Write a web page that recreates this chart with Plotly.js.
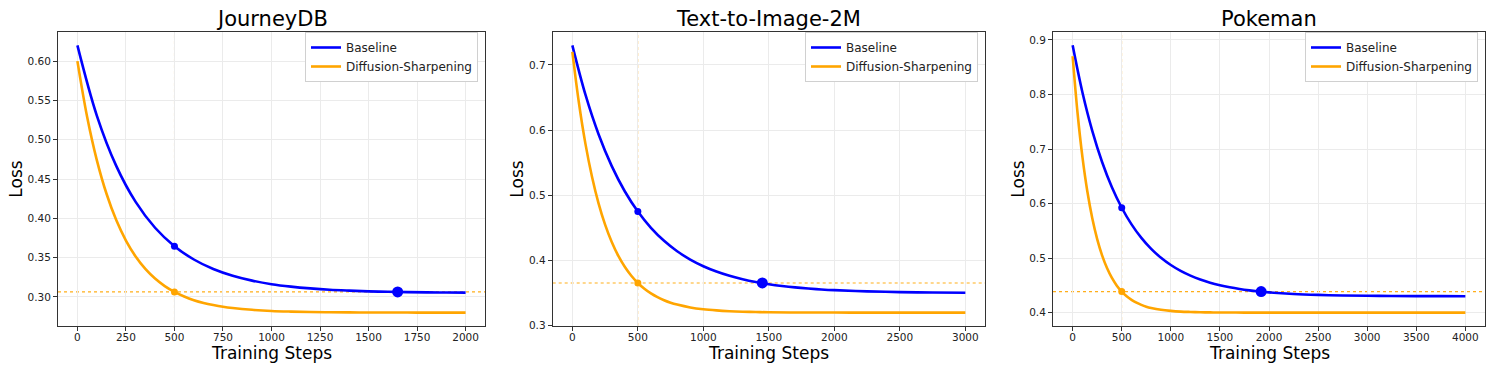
<!DOCTYPE html>
<html>
<head>
<meta charset="utf-8">
<script src="https://cdn.plot.ly/plotly-3.0.1.min.js"></script>
<style>
  html, body { margin: 0; padding: 0; background: #fff; }
  #chart { width: 1495px; height: 373px; }
</style>
</head>
<body>
<div id="chart"></div>
<script>
// --- JourneyDB ---
const journeyBaseSteps = [0, 100, 200, 300, 400, 500, 600, 700, 800, 900, 1000, 1100, 1200, 1300, 1400, 1500, 1600, 1700, 1800, 1900, 2000];
const journeyBaseLoss = [0.6200, 0.5307, 0.4667, 0.4209, 0.3880, 0.3645, 0.3476, 0.3355, 0.3269, 0.3207, 0.3162, 0.3131, 0.3108, 0.3091, 0.3080, 0.3071, 0.3065, 0.3061, 0.3058, 0.3056, 0.3054];
const journeySharpSteps = [0, 50, 100, 150, 200, 250, 300, 350, 400, 450, 500, 550, 600, 650, 700, 750, 800, 900, 1000, 1100, 1200, 1300, 1400, 1500, 1600, 1700, 1800, 1900, 2000];
const journeySharpLoss = [0.6000, 0.5292, 0.4741, 0.4312, 0.3977, 0.3717, 0.3514, 0.3356, 0.3233, 0.3137, 0.3063, 0.3005, 0.2959, 0.2924, 0.2897, 0.2875, 0.2859, 0.2836, 0.2821, 0.2813, 0.2808, 0.2805, 0.2803, 0.2802, 0.2801, 0.2801, 0.2800, 0.2800, 0.2800];
const journeyMatchStep = 1650;

// --- Text-to-Image-2M ---
const t2iBaseSteps = [0, 100, 200, 300, 400, 500, 600, 700, 800, 900, 1000, 1100, 1200, 1300, 1400, 1500, 1600, 1700, 1800, 1900, 2000, 2250, 2500, 2750, 3000];
const t2iBaseLoss = [0.7300, 0.6543, 0.5937, 0.5451, 0.5062, 0.4751, 0.4502, 0.4302, 0.4142, 0.4014, 0.3912, 0.3830, 0.3764, 0.3711, 0.3669, 0.3636, 0.3609, 0.3587, 0.3570, 0.3556, 0.3545, 0.3526, 0.3515, 0.3508, 0.3505];
const t2iSharpSteps = [0, 50, 100, 150, 200, 250, 300, 350, 400, 450, 500, 550, 600, 650, 700, 750, 800, 900, 1000, 1100, 1200, 1300, 1400, 1500, 1750, 2000, 2250, 2500, 2750, 3000];
const t2iSharpLoss = [0.7200, 0.6419, 0.5789, 0.5284, 0.4876, 0.4549, 0.4286, 0.4073, 0.3903, 0.3765, 0.3655, 0.3566, 0.3494, 0.3437, 0.3391, 0.3353, 0.3324, 0.3280, 0.3252, 0.3234, 0.3222, 0.3214, 0.3209, 0.3206, 0.3202, 0.3201, 0.3200, 0.3200, 0.3200, 0.3200];
const t2iMatchStep = 1450;

// --- Pokeman ---
const pokeBaseSteps = [0, 100, 200, 300, 400, 500, 600, 700, 800, 900, 1000, 1100, 1200, 1300, 1400, 1500, 1600, 1700, 1800, 1900, 2000, 2250, 2500, 2750, 3000, 3250, 3500, 3750, 4000];
const pokeBaseLoss = [0.8900, 0.8035, 0.7332, 0.6762, 0.6299, 0.5923, 0.5618, 0.5370, 0.5169, 0.5006, 0.4873, 0.4765, 0.4678, 0.4607, 0.4549, 0.4502, 0.4464, 0.4433, 0.4408, 0.4388, 0.4371, 0.4342, 0.4325, 0.4315, 0.4309, 0.4305, 0.4303, 0.4302, 0.4301];
const pokeSharpSteps = [0, 50, 100, 150, 200, 250, 300, 350, 400, 450, 500, 550, 600, 650, 700, 750, 800, 900, 1000, 1100, 1200, 1300, 1400, 1500, 1750, 2000, 2500, 3000, 3500, 4000];
const pokeSharpLoss = [0.8700, 0.7660, 0.6851, 0.6220, 0.5729, 0.5347, 0.5049, 0.4817, 0.4636, 0.4495, 0.4386, 0.4300, 0.4234, 0.4182, 0.4142, 0.4110, 0.4086, 0.4052, 0.4032, 0.4019, 0.4012, 0.4007, 0.4004, 0.4003, 0.4001, 0.4000, 0.4000, 0.4000, 0.4000, 0.4000];
const pokeMatchStep = 1920;

const panelTitles = ['JourneyDB', 'Text-to-Image-2M', 'Pokeman'];
const compareStep = 500;

const BLUE = '#0000ff';
const ORANGE = '#ffa500';
const FONT = 'DejaVu Sans, sans-serif';

const panels = [
    { baseX: journeyBaseSteps, baseY: journeyBaseLoss, sharpX: journeySharpSteps, sharpY: journeySharpLoss, match: journeyMatchStep,
      xr: [-100, 2100], yr: [0.263, 0.637], xd: 250, yd: 0.05, yfmt: '.2f', dom: [58, 485] },
    { baseX: t2iBaseSteps, baseY: t2iBaseLoss, sharpX: t2iSharpSteps, sharpY: t2iSharpLoss, match: t2iMatchStep,
      xr: [-150, 3150], yr: [0.2995, 0.7505], xd: 500, yd: 0.1, yfmt: '.1f', dom: [552.7, 985] },
    { baseX: pokeBaseSteps, baseY: pokeBaseLoss, sharpX: pokeSharpSteps, sharpY: pokeSharpLoss, match: pokeMatchStep,
      xr: [-200, 4200], yr: [0.3755, 0.9145], xd: 500, yd: 0.1, yfmt: '.1f', dom: [1053, 1485] }
];

const W = 1495, H = 373;
const plotTop = 32, plotBottom = 326;

const traces = [];
const shapes = [];
const annotations = [];
const layout = {
    width: W, height: H,
    margin: { l: 0, r: 0, t: 0, b: 0 },
    paper_bgcolor: '#fff',
    plot_bgcolor: '#fff',
    font: { family: FONT, color: '#222' },
    showlegend: true
};

panels.forEach((p, i) => {
    const n = i === 0 ? '' : String(i + 1);
    const xa = 'x' + n, ya = 'y' + n;
    const leg = 'legend' + n;

    // loss of each curve at the compare step
    const sharpAt = p.sharpY[p.sharpX.indexOf(compareStep)];
    const baseAt = p.baseY[p.baseX.indexOf(compareStep)];

    traces.push({
        x: p.baseX, y: p.baseY, type: 'scatter', mode: 'lines', name: 'Baseline',
        line: { color: BLUE, width: 2.6, shape: 'spline', smoothing: 1 },
        xaxis: xa, yaxis: ya, legend: leg
    });
    traces.push({
        x: p.sharpX, y: p.sharpY, type: 'scatter', mode: 'lines', name: 'Diffusion-Sharpening',
        line: { color: ORANGE, width: 2.6, shape: 'spline', smoothing: 1 },
        xaxis: xa, yaxis: ya, legend: leg
    });
    // markers
    traces.push({
        x: [compareStep], y: [baseAt], type: 'scatter', mode: 'markers', showlegend: false,
        marker: { color: BLUE, size: 7 }, xaxis: xa, yaxis: ya
    });
    traces.push({
        x: [compareStep], y: [sharpAt], type: 'scatter', mode: 'markers', showlegend: false,
        marker: { color: ORANGE, size: 7 }, xaxis: xa, yaxis: ya
    });
    traces.push({
        x: [p.match], y: [sharpAt], type: 'scatter', mode: 'markers', showlegend: false,
        marker: { color: BLUE, size: 11 }, xaxis: xa, yaxis: ya
    });

    // dotted guide lines
    shapes.push({
        type: 'line', xref: xa, yref: ya + ' domain', x0: compareStep, x1: compareStep, y0: 0, y1: 1,
        line: { color: 'rgba(255,165,0,0.5)', width: 1, dash: 'dot' }, layer: 'below'
    });
    shapes.push({
        type: 'line', xref: xa + ' domain', yref: ya, x0: 0, x1: 1, y0: sharpAt, y1: sharpAt,
        line: { color: 'rgba(255,165,0,0.9)', width: 1.2, dash: 'dot' }, layer: 'below'
    });

    const d0 = p.dom[0] / W, d1 = p.dom[1] / W;
    layout['xaxis' + n] = {
        domain: [d0, d1], anchor: ya, range: p.xr, dtick: p.xd, tick0: 0,
        showline: true, mirror: true, linecolor: '#333', linewidth: 1,
        ticks: 'outside', ticklen: 4, tickcolor: '#333', ticklabelstandoff: -3,
        showgrid: true, gridcolor: '#ebebeb', gridwidth: 1, zeroline: false,
        tickfont: { size: 10.5, color: '#222' },
        title: { text: '' }
    };
    layout['yaxis' + n] = {
        domain: [1 - plotBottom / H, 1 - plotTop / H], anchor: xa, range: p.yr, dtick: p.yd, tick0: 0,
        tickformat: p.yfmt,
        showline: true, mirror: true, linecolor: '#333', linewidth: 1,
        ticks: 'outside', ticklen: 4, tickcolor: '#333',
        showgrid: true, gridcolor: '#ebebeb', gridwidth: 1, zeroline: false,
        tickfont: { size: 10.5, color: '#222' },
        title: { text: 'Loss', font: { size: 17, color: '#000' }, standoff: 0 }
    };
    layout[leg] = {
        x: (p.dom[1] - 7) / W, y: 1 - 32 / H, xanchor: 'right', yanchor: 'top',
        bgcolor: '#fff', bordercolor: '#d0d0d0', borderwidth: 1,
        font: { size: 12, color: '#222' }, tracegroupgap: 0, itemwidth: 30
    };

    annotations.push({
        text: panelTitles[i], xref: 'paper', yref: 'paper',
        x: (d0 + d1) / 2, y: 1 - 19 / H, xanchor: 'center', yanchor: 'middle',
        showarrow: false, font: { size: 21, color: '#000' }
    });
    // x-axis title placed just under the tick labels
    annotations.push({
        text: 'Training Steps', xref: 'paper', yref: 'paper',
        x: (d0 + d1) / 2, y: 1 - 353 / H, xanchor: 'center', yanchor: 'middle',
        showarrow: false, font: { size: 17, color: '#000' }
    });
});

layout.shapes = shapes;
layout.annotations = annotations;

Plotly.newPlot('chart', traces, layout, { displayModeBar: false, staticPlot: true });
</script>
</body>
</html>
